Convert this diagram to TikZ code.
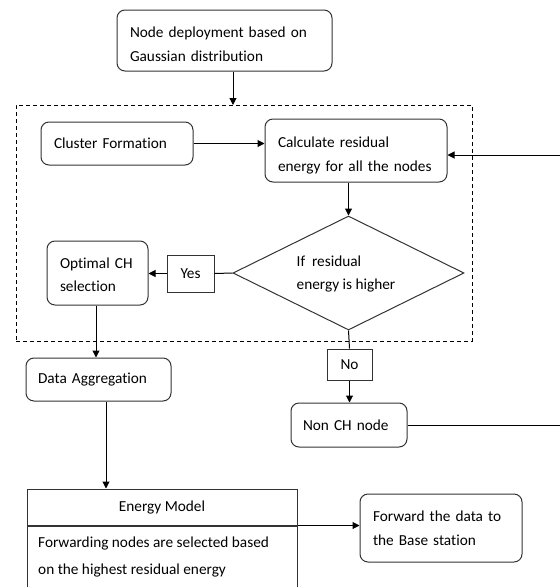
\documentclass[tikz,border=0pt]{standalone}
\usepackage{fontspec}
\setmainfont[Ligatures=NoCommon]{Carlito}
\usetikzlibrary{shapes.geometric,arrows.meta}
\newcommand\upstrut[1]{\rule{0pt}{#1}}
\begin{document}
\begin{tikzpicture}[x=1pt,y=-1pt,
  every node/.style={font=\fontsize{15.3}{23.5}\selectfont, text=black},
  rbox/.style={draw=black!80, line width=1pt, rounded corners=8pt, align=left, inner sep=0pt},
  sbox/.style={draw=black!80, line width=1pt, align=center, inner sep=0pt},
  arr/.style={draw=black, line width=1pt, -{Triangle[length=7pt,width=7pt]}},
  ln/.style={draw=black, line width=1pt}]
\useasboundingbox (0,0) rectangle (560,587);
\clip (0,0) rectangle (560,587);
% dashed group
\node[draw=black, line width=0.9pt, dash pattern=on 4pt off 3pt, minimum width=456pt, minimum height=236pt, inner sep=0pt] (grp) at (244,223) {};
% nodes
\node[rbox, minimum width=215pt, minimum height=61pt, text width=189pt] (top) at (224.5,40.5) {\upstrut{18.5pt}Node deployment based on\\Gaussian distribution};
\node[rbox, minimum width=152pt, minimum height=43pt, text width=126pt] (clu) at (117,143.5) {Cluster Formation};
\node[rbox, minimum width=182pt, minimum height=63pt, text width=156pt] (calc) at (356,150.5) {\upstrut{20.5pt}Calculate residual\\energy for all the nodes};
\node[draw=black!80, line width=1pt, shape=diamond, minimum width=231pt, minimum height=114pt, inner sep=0pt] (dia) at (348.5,273) {};
\node[align=left, inner sep=0pt] (diat) at (346,274) {If\ \ residual\\energy is higher};
\node[sbox, minimum width=47pt, minimum height=37pt] (yes) at (190.5,273.5) {Yes};
\node[rbox, minimum width=101pt, minimum height=64pt, text width=75pt] (opt) at (97.5,273) {\upstrut{14.5pt}Optimal CH\\selection};
\node[rbox, minimum width=145pt, minimum height=43pt, text width=121pt] (da) at (98.5,379.5) {Data Aggregation};
\node[sbox, minimum width=45pt, minimum height=31pt] (no) at (349.5,364.5) {No};
\node[rbox, minimum width=116pt, minimum height=44pt, text width=92pt] (nch) at (349,425) {Non CH node};
\node[sbox, minimum width=270pt, minimum height=36pt] (em) at (162,507) {Energy Model};
\node[draw=black!80, line width=1pt, minimum width=270pt, minimum height=80pt, anchor=north, inner sep=0pt] (emb) at (em.south) {};
\node[align=left, anchor=north west, inner sep=0pt, font=\fontsize{15.3}{26.5}\selectfont] (embt) at (38,537) {Forwarding nodes are selected based\\on the highest residual energy};
\node[rbox, minimum width=162pt, minimum height=68pt, text width=136pt] (fwd) at (441,528) {Forward the data to\\the Base station};
% coordinates
\coordinate (gtop) at (233,105);
\coordinate (r1) at (560,155);
\coordinate (r2) at (560,424);
% connectors
\draw[arr] (top.south -| gtop) -- (gtop);
\draw[arr] (clu.east) -- (clu.east -| calc.west);
\draw[arr] (r1) -- (r1 -| calc.east);
\draw[arr] (dia.north |- calc.south) -- (dia.north);
\draw[ln] (dia.west) -- (yes.east);
\draw[arr] (yes.west) -- (yes.west -| opt.east);
\draw[arr] ([xshift=-1.5pt]opt.south) -- ([xshift=-1.5pt]opt.south |- da.north);
\draw[ln] (dia.south) -- (no.north);
\draw[arr] (no.south) -- (no.south |- nch.north);
\draw[ln] (nch.east) -- (nch.east -| r2);
\draw[arr] ([xshift=7.5pt]da.south) -- ([xshift=7.5pt]da.south |- em.north);
\draw[arr] (em.south east) -- (em.south east -| fwd.west);
\end{tikzpicture}
\end{document}
